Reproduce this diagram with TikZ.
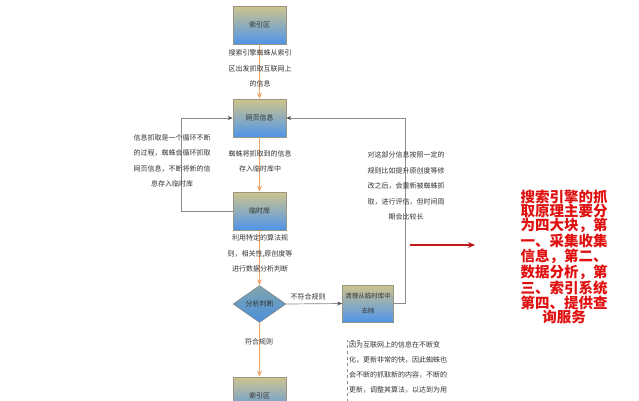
\documentclass[tikz,border=0pt]{standalone}
\usepackage{fontspec}
\setmainfont{Noto Sans CJK SC}
\usetikzlibrary{shapes.geometric,arrows.meta}
\definecolor{boxtop}{HTML}{CFC48C}
\definecolor{boxbot}{HTML}{4F95EA}
\definecolor{diatop}{HTML}{7FA6AE}
\definecolor{diabot}{HTML}{4A8FDC}
\definecolor{boxline}{HTML}{9A9580}
\definecolor{orangeln}{HTML}{F2A56A}
\definecolor{grayln}{HTML}{8A8A8A}
\definecolor{redtxt}{HTML}{E01010}
\definecolor{redarrow}{HTML}{C01818}
\definecolor{txt}{HTML}{333333}
\tikzset{
  flowbox/.style={rectangle, draw=boxline, line width=0.6pt, top color=boxtop, bottom color=boxbot,
    minimum width=53pt, minimum height=38pt, inner sep=1pt, align=center,
    font=\fontsize{7}{12}\selectfont, text=txt},
  judgebox/.style={diamond, draw=grayln, line width=0.6pt, top color=diatop, bottom color=diabot,
    minimum width=53pt, minimum height=37pt, inner sep=0pt, aspect=1.43,
    font=\fontsize{7}{12}\selectfont, text=txt},
  note/.style={inner sep=0pt, align=center, font=\fontsize{7}{15.5}\selectfont, text=txt},
  notel/.style={inner sep=0pt, align=left, font=\fontsize{7}{15}\selectfont, text=txt},
  flowarrow/.style={draw=orangeln, line width=1pt, -{Stealth[length=6pt,width=5pt]}},
  looparrow/.style={draw=grayln, line width=0.7pt, -{Stealth[length=5pt,width=4pt,color=black!70]}},
}
\begin{document}
\begin{tikzpicture}[x=1pt,y=-1pt]
\useasboundingbox (0,0) rectangle (639,400);
\clip (0,0) rectangle (639,400);
\fill[white] (0,0) rectangle (639,400);

% nodes
\node[flowbox] (idx1) at (259.5,25) {索引区};
\node[flowbox] (web) at (259.5,118) {网页信息};
\node[flowbox] (tmp) at (259.5,211) {临时库};
\node[judgebox] (judge) at (259.5,304) {分析判断};
\node[flowbox, minimum width=51pt, minimum height=37pt, font=\fontsize{6.5}{15}\selectfont] (clean) at (368,303.5) {清理从临时库中\\去除};
\node[flowbox] (idx2) at (259.5,396) {索引区};

% coordinates for loops
\coordinate (lt) at (181,211);
\coordinate (lb) at (181,118);
\coordinate (rt) at (405,303.5);
\coordinate (rb) at (405,118);

% connectors
\draw[flowarrow] (idx1.south) -- (web.north);
\draw[flowarrow] (web.south) -- (tmp.north);
\draw[flowarrow] (tmp.south) -- (judge.north);
\draw[flowarrow] (judge.south) -- (idx2.north);
\draw[looparrow] (judge.east) -- (clean.west);
\draw[looparrow] (tmp.west) -- (lt) -- (lb) -- (web.west);
\draw[looparrow] (clean.east) -- (rt) -- (rb) -- (web.east);

% texts
\node[note] (t1) at (260,68.5) {搜索引擎蜘蛛从索引\\区出发抓取互联网上\\的信息};
\node[note] (t2) at (172,161) {信息抓取是一个循环不断\\的过程，蜘蛛会循环抓取\\网页信息，不断将新的信\\息存入临时库};
\node[note] (t3) at (260,161.5) {蜘蛛将抓取到的信息\\存入临时库中};
\node[note] (t4) at (260,253.5) {利用特定的算法规\\则，相关性,原创度等\\进行数据分析判断};
\node[note] (t5) at (308,296.5) {不符合规则};
\node[note] (t6) at (259,342) {符合规则};
\node[note] (t7) at (406,186) {对这部分信息按照一定的\\规则比如提升原创度等修\\改之后，会重新被蜘蛛抓\\取，进行评估，但时间周\\期会比较长};

% dashed text box
\draw[grayln, dashed, line width=0.5pt] (360,340) -- (347,340) -- (347,402);
\node[notel, anchor=north west] (t8) at (349,341) {因为互联网上的信息在不断变\\化，更新非常的快，因此蜘蛛也\\会不断的抓取新的内容，不断的\\更新，调整其算法，以达到为用};

% red arrow and summary
\coordinate (ra) at (410,245);
\node[inner sep=0pt, align=center, font=\fontsize{14.5}{14}\selectfont\bfseries, text=redtxt] (sum) at (564,257)
 {搜索引擎的抓\\取原理主要分\\为四大块，第\\一、采集收集\\信息，第二、\\数据分析，第\\三、索引系统\\第四、提供查\\询服务};
\coordinate (rb2) at (475,245);
\draw[redarrow, line width=1.6pt, -{Stealth[length=7pt,width=6pt]}] (ra) -- (rb2);
\end{tikzpicture}
\end{document}
